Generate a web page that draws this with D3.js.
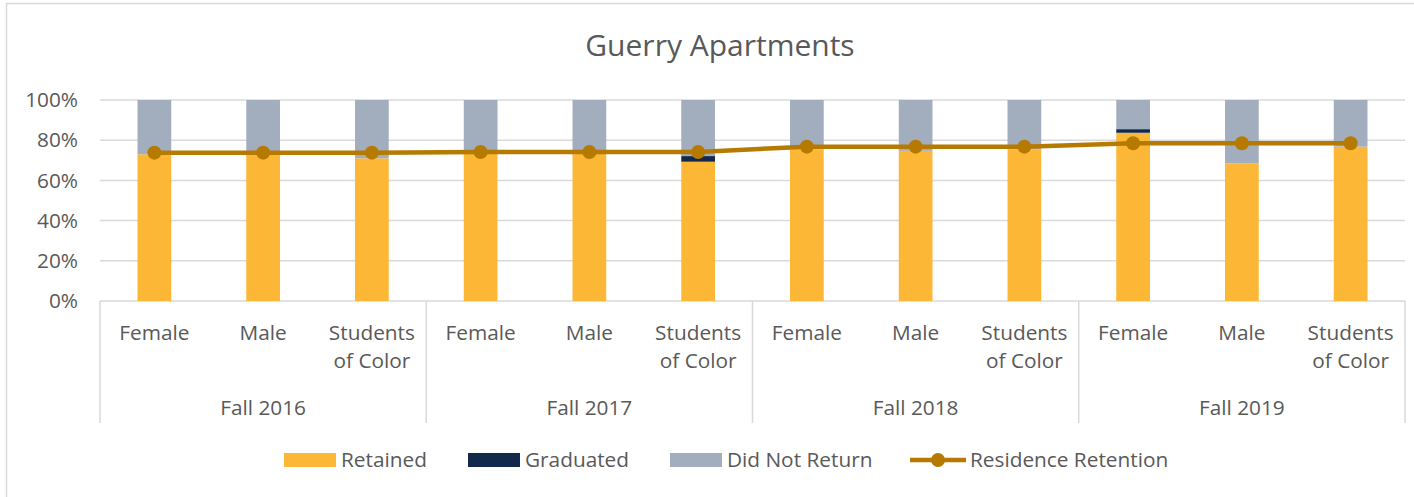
<!DOCTYPE html>
<html>
<head>
<meta charset="utf-8">
<script src="https://cdn.jsdelivr.net/npm/d3@7"></script>
<style>
  html, body { margin: 0; padding: 0; background: #fff; }
  svg { display: block; }
  text { font-family: "Open Sans", "Noto Sans", sans-serif; fill: #595959; }
</style>
</head>
<body>
<svg id="chart" width="1414" height="497"></svg>
<script>
// ---- data ----
const title = "Guerry Apartments";
const groups = ["Fall 2016", "Fall 2017", "Fall 2018", "Fall 2019"];
const subcategories = [["Female"], ["Male"], ["Students", "of Color"]];
const retained     = [73.0, 73.5, 71.0, 73.5, 73.5, 69.3, 75.5, 74.7, 75.5, 83.7, 68.5, 76.8];
const graduated    = [0, 0, 0, 0, 0, 2.8, 0, 0, 0, 1.8, 0, 0];
const didNotReturn = [27.0, 26.5, 29.0, 26.5, 26.5, 27.9, 24.5, 25.3, 24.5, 14.5, 31.5, 23.2];
const residenceRetention = [73.8, 73.8, 73.8, 74.1, 74.1, 74.1, 76.8, 76.8, 76.8, 78.5, 78.5, 78.5];
const yTicks = [0, 20, 40, 60, 80, 100];
const seriesNames = ["Retained", "Graduated", "Did Not Return", "Residence Retention"];

// ---- styles ----
const colors = { ret: "#FBB735", grad: "#13294B", dnr: "#A2ADBD", line: "#B77A00", grid: "#D9D9D9" };
const labelSize = "20.8px";

const svg = d3.select("#chart");
const plotLeft = 100, plotRight = 1405, plotTop = 100, plotBottom = 301;

// outer chart border
svg.append("rect").attr("x", 6.5).attr("y", 3.5).attr("width", 1430).attr("height", 520)
  .attr("fill", "none").attr("stroke", colors.grid).attr("stroke-width", 1.5);

// categories
const cats = [];
groups.forEach((g, gi) => subcategories.forEach((s, si) => cats.push({ key: gi + "-" + si, group: g, gi, label: s })));

const x = d3.scaleBand().domain(cats.map(d => d.key)).range([plotLeft, plotRight]).paddingInner(0.69).paddingOuter(0.345);
const y = d3.scaleLinear().domain([0, 100]).range([plotBottom, plotTop]);

// gridlines
svg.append("g").selectAll("line").data(yTicks).join("line")
  .attr("x1", plotLeft).attr("x2", plotRight)
  .attr("y1", d => y(d)).attr("y2", d => y(d))
  .attr("stroke", colors.grid).attr("stroke-width", 1.5);

// y axis labels
const yAxis = d3.axisLeft(y).tickValues(yTicks).tickFormat(d => d + "%").tickSize(0).tickPadding(22);
const yg = svg.append("g").attr("transform", `translate(${plotLeft},0)`).call(yAxis);
yg.select(".domain").remove();
yg.selectAll("text").style("font-size", labelSize).attr("fill", "#595959").attr("font-family", "Open Sans");

// stacked bars
const rows = cats.map((c, i) => ({ key: c.key, ret: retained[i], grad: graduated[i], dnr: didNotReturn[i] }));
const stack = d3.stack().keys(["ret", "grad", "dnr"])(rows);
svg.append("g").selectAll("g").data(stack).join("g")
  .attr("fill", d => colors[d.key])
  .selectAll("rect").data(d => d).join("rect")
  .attr("x", d => x(d.data.key))
  .attr("width", x.bandwidth())
  .attr("y", d => y(Math.min(100, d[1])))
  .attr("height", d => Math.max(0, y(d[0]) - y(Math.min(100, d[1]))));

// category axis (multi-level)
const axisBottomY = 423;
const groupEdges = d3.range(groups.length + 1).map(i => plotLeft + (plotRight - plotLeft) * i / groups.length);
svg.append("g").selectAll("line").data(groupEdges).join("line")
  .attr("x1", d => d).attr("x2", d => d)
  .attr("y1", plotBottom).attr("y2", axisBottomY)
  .attr("stroke", colors.grid).attr("stroke-width", 1.5);

const catLabels = svg.append("g").selectAll("text").data(cats).join("text")
  .attr("text-anchor", "middle")
  .attr("x", d => x(d.key) + x.bandwidth() / 2)
  .attr("y", 340)
  .style("font-size", labelSize);
catLabels.selectAll("tspan").data(d => d.label).join("tspan")
  .attr("x", function () { return d3.select(this.parentNode).attr("x"); })
  .attr("dy", (d, i) => i === 0 ? 0 : 28)
  .text(d => d);

svg.append("g").selectAll("text").data(groups).join("text")
  .attr("text-anchor", "middle")
  .attr("x", (d, i) => (groupEdges[i] + groupEdges[i + 1]) / 2)
  .attr("y", 415)
  .style("font-size", labelSize)
  .text(d => d);

// line series
const cx = (d, i) => x(cats[i].key) + x.bandwidth() / 2;
svg.append("path").datum(residenceRetention)
  .attr("fill", "none").attr("stroke", colors.line).attr("stroke-width", 4.5)
  .attr("d", d3.line().x(cx).y(d => y(d)));
svg.append("g").selectAll("circle").data(residenceRetention).join("circle")
  .attr("cx", cx).attr("cy", d => y(d)).attr("r", 7)
  .attr("fill", colors.line);

// title
svg.append("text").attr("x", 720).attr("y", 56).attr("text-anchor", "middle")
  .style("font-size", "30px").text(title);

// legend
const legY = 460;
const legend = svg.append("g").style("font-size", labelSize);
const items = [
  { name: seriesNames[0], type: "rect", color: colors.ret, x0: 284 },
  { name: seriesNames[1], type: "rect", color: colors.grad, x0: 468 },
  { name: seriesNames[2], type: "rect", color: colors.dnr, x0: 670 },
  { name: seriesNames[3], type: "line", color: colors.line, x0: 910 }
];
items.forEach(it => {
  if (it.type === "rect") {
    legend.append("rect").attr("x", it.x0).attr("y", legY - 7).attr("width", 52).attr("height", 14).attr("fill", it.color);
  } else {
    legend.append("line").attr("x1", it.x0).attr("x2", it.x0 + 56).attr("y1", legY).attr("y2", legY)
      .attr("stroke", it.color).attr("stroke-width", 4.5);
    legend.append("circle").attr("cx", it.x0 + 28).attr("cy", legY).attr("r", 7).attr("fill", it.color);
  }
  legend.append("text").attr("x", it.x0 + (it.type === "rect" ? 57 : 60)).attr("y", legY).attr("dy", "0.35em").text(it.name);
});
</script>
</body>
</html>
